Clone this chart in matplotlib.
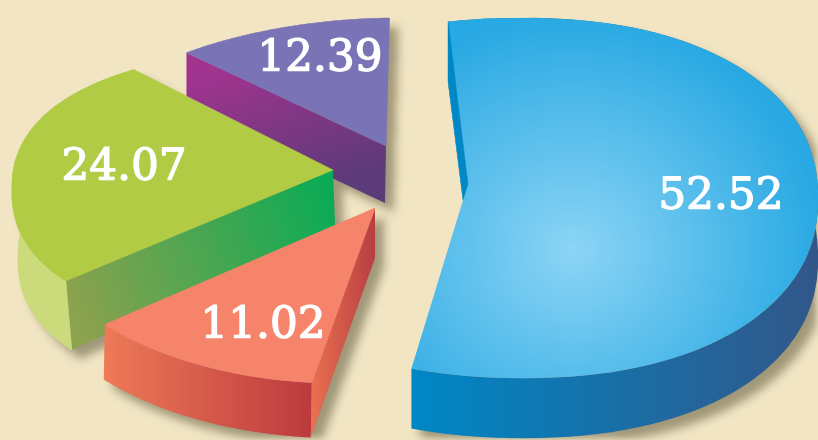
import numpy as np
import matplotlib
matplotlib.use('Agg')
import matplotlib.pyplot as plt
from matplotlib.colors import to_rgb
from matplotlib.patches import Polygon
from matplotlib.path import Path
import matplotlib.patheffects as pe

# values, clockwise from the big slice
values = [52.52, 11.02, 24.07, 12.39]
label_xy = [(721, 196), (263, 325), (124, 167), (320, 58)]
start_angle = 89.3

W, H = 818, 440
BG = '#F1E5C3'

# picture geometry of each slice: hub, rim ellipse, squash of the angles, turn
blue = dict(hub=(468, 184), rim=(522, 198, 296, 180, 2.2), q=0.37, turn=3.3)
orange = dict(hub=(375, 208), rim=(338, 200, 318, 183, 2.0), q=0.52, turn=-0.9)
green = dict(hub=(333, 170), rim=(308, 190, 296, 140, 2.3), q=0.485, turn=0.0)
purple = dict(hub=(386, 146), rim=(400, 190, 354, 172, 2.0), q=0.45, turn=0.0)

fig = plt.figure(figsize=(W / 100, H / 100), dpi=100, facecolor=BG)
ax = fig.add_axes([0, 0, 1, 1])
ax.axis('off')

gx, gy = np.meshgrid(np.arange(W) + 0.5, np.arange(H) + 0.5)
grid = np.column_stack([gx.ravel(), gy.ravel()])


def rim_point(s, angle):
    # follow the ray from the hub until it reaches the rim
    hx, hy = s['hub']
    cx, cy, a, b, n = s['rim']
    t = np.radians(angle + s['turn'])
    d = np.array([np.cos(t), -np.sin(t) * s['q']])
    d = d / np.hypot(*d)
    r = np.linspace(0, 800, 3201)
    f = np.abs((hx + r * d[0] - cx) / a) ** n + np.abs((hy + r * d[1] - cy) / b) ** n
    i = np.argmax(f >= 1)
    return hx + r[i] * d[0], hy + r[i] * d[1]


def rim_arc(s, a0, a1):
    return np.array([rim_point(s, t) for t in np.linspace(a0, a1, 120)])


def band(arc, shift):
    return np.vstack([arc, (arc + shift)[::-1]])


def flat(pts, color):
    ax.add_patch(Polygon(pts, closed=True, fc=color, ec=color, lw=0.4))


def gradient(pts, c1, c2, p1, p2):
    # linear gradient clipped to the polygon
    p1, p2 = np.array(p1, float), np.array(p2, float)
    v = p2 - p1
    t = ((gx - p1[0]) * v[0] + (gy - p1[1]) * v[1]) / (v @ v)
    t = np.clip(t, 0, 1)[..., None]
    img = np.array(to_rgb(c1)) * (1 - t) + np.array(to_rgb(c2)) * t
    im = ax.imshow(img, extent=(0, W, H, 0), aspect='auto', interpolation='nearest')
    im.set_clip_path(Polygon(pts, closed=True, transform=ax.transData))


def radial(pts, c1, c2, center, rx, ry):
    t = np.hypot((gx - center[0]) / rx, (gy - center[1]) / ry)
    t = np.clip(t, 0, 1)[..., None]
    img = np.array(to_rgb(c1)) * (1 - t) + np.array(to_rgb(c2)) * t
    im = ax.imshow(img, extent=(0, W, H, 0), aspect='auto', interpolation='nearest')
    im.set_clip_path(Polygon(pts, closed=True, transform=ax.transData))


def blur(a, r):
    kernel = np.ones(2 * r + 1) / (2 * r + 1)
    for _ in range(3):
        a = np.apply_along_axis(lambda m: np.convolve(m, kernel, mode='same'), 0, a)
        a = np.apply_along_axis(lambda m: np.convolve(m, kernel, mode='same'), 1, a)
    return a


# angles from the values
spans = [v / sum(values) * 360 for v in values]
ends = start_angle - np.cumsum(spans)
starts = np.concatenate([[start_angle], ends[:-1]])

arc_blue = rim_arc(blue, starts[0], ends[0])
arc_orange = rim_arc(orange, starts[1], ends[1])
arc_green = rim_arc(green, starts[2], ends[2])
arc_purple = rim_arc(purple, starts[3], ends[3])

top_blue = np.vstack([[blue['hub']], arc_blue])
top_orange = np.vstack([[orange['hub']], arc_orange])
top_green = np.vstack([[green['hub']], arc_green])
top_purple = np.vstack([[purple['hub']], arc_purple])

drop_blue = np.array([0, 60])
drop_orange = np.array([-1, 55])
drop_green = np.array([6, 69])
drop_purple = np.array([-1, 57])

side_blue = band(arc_blue, drop_blue)
side_orange = band(arc_orange, drop_orange)
side_green = band(arc_green, drop_green)

inner_blue = np.array([arc_blue[0], arc_blue[0] + drop_blue, blue['hub'] + np.array([-5, 16]), blue['hub']])
inner_orange = np.array([orange['hub'], orange['hub'] + np.array([0, 50]), arc_orange[0] + drop_orange, arc_orange[0]])
inner_green = np.array([green['hub'], green['hub'] + np.array([2, 55]), arc_green[0] + drop_green, arc_green[0]])
inner_purple = np.array([purple['hub'], purple['hub'] + drop_purple, arc_purple[0] + (0, 57), arc_purple[0]])

# soft shadow under everything
mask = np.zeros((H, W))
for poly in [top_blue, side_blue, top_orange, side_orange, inner_orange,
             top_green, side_green, inner_green, top_purple, inner_purple]:
    inside = Path(poly + (9, 9)).contains_points(grid).reshape(H, W)
    mask = np.maximum(mask, inside.astype(float))
shadow = np.zeros((H, W, 4))
shadow[..., :3] = to_rgb('#4F4A2E')
shadow[..., 3] = blur(mask, 4) * 0.5
ax.imshow(shadow, extent=(0, W, H, 0), aspect='auto', interpolation='bilinear')

# purple slice
gradient(inner_purple, '#A1348F', '#5C3B79', (250, 60), (300, 200))
flat(top_purple, '#7A73B5')

# blue slice
gradient(side_blue, '#0088C6', '#33578A', (410, 0), (818, 0))
flat(inner_blue, '#0088C6')
radial(top_blue, '#8CD5F6', '#29A9E3', (573, 250), 250, 235)

# green slice
flat(side_green, '#CBDB7C')
gradient(inner_green, '#8BA24E', '#0AAB56', (73, 300), (335, 200))
flat(top_green, '#B1CB44')

# orange slice
gradient(side_orange, '#EE7A58', '#BC3A3E', (105, 0), (313, 0))
gradient(inner_orange, '#E9704F', '#B83E42', (313, 0), (375, 0))
flat(top_orange, '#F6846A')

for v, (x, y) in zip(values, label_xy):
    ax.text(x, y, f'{v:.2f}', color='white', fontsize=31.5, family='DejaVu Serif',
            ha='center', va='center',
            path_effects=[pe.withStroke(linewidth=1.0, foreground='white')])

ax.set_xlim(0, W)
ax.set_ylim(H, 0)
fig.savefig('out.png', dpi=100, facecolor=BG)
